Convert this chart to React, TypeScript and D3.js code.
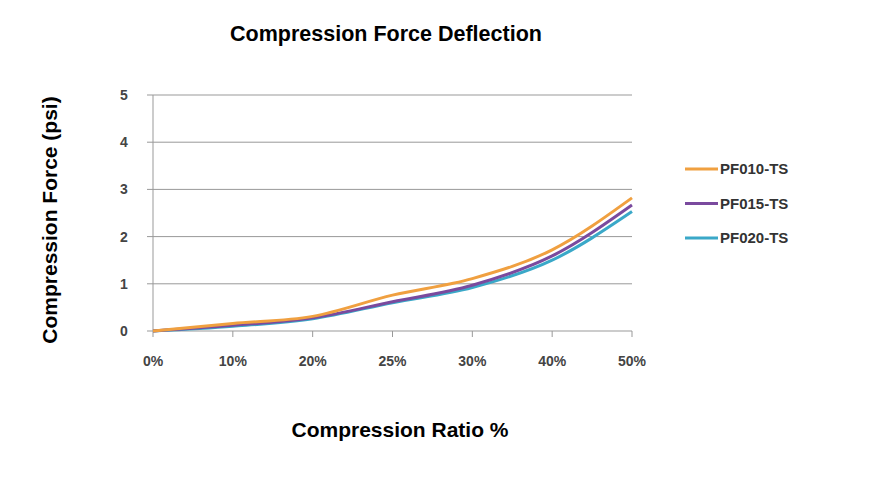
import React from "react";
import * as d3 from "d3";

const categories = ["0%", "10%", "20%", "25%", "30%", "40%", "50%"];
const yTicks = [0, 1, 2, 3, 4, 5];
const seriesNames = ["PF010-TS", "PF015-TS", "PF020-TS"];
const pf010 = [0, 0.16, 0.31, 0.76, 1.11, 1.72, 2.82];
const pf015 = [0, 0.12, 0.28, 0.62, 0.97, 1.59, 2.67];
const pf020 = [0, 0.1, 0.26, 0.6, 0.92, 1.5, 2.53];
const colors = ["#F0A040", "#7A4A9E", "#3AA8C8"];

export default function App() {
  const W = 879, H = 477;
  const x = d3.scalePoint().domain(categories).range([153, 632]);
  const y = d3.scaleLinear().domain([0, 5]).range([331, 95]);
  const line = d3.line<number>()
    .x((_, i) => x(categories[i]) as number)
    .y((d) => y(d))
    .curve(d3.curveMonotoneX);
  const data = [pf010, pf015, pf020];
  const tickFont = { fontFamily: "Arial, Liberation Sans, sans-serif", fontSize: 14, fontWeight: 700, fill: "#444" };
  return (
    <svg width={W} height={H} style={{ position: "absolute", left: 0, top: 0 }}>
      <rect width={W} height={H} fill="#fff" />
      <text x={386} y={41} textAnchor="middle" fontFamily="Arial, Liberation Sans, sans-serif" fontSize={21.5} fontWeight={700}>Compression Force Deflection</text>
      {yTicks.map((t) => (
        <g key={t}>
          <line x1={153} x2={632} y1={y(t)} y2={y(t)} stroke="#999" strokeWidth={1} />
          <line x1={147} x2={153} y1={y(t)} y2={y(t)} stroke="#999" />
          <text x={124} y={y(t) + 5} textAnchor="middle" {...tickFont}>{t}</text>
        </g>
      ))}
      <line x1={153} x2={153} y1={95} y2={331} stroke="#999" />
      {categories.map((c) => (
        <g key={c}>
          <line x1={x(c)} x2={x(c)} y1={331} y2={337} stroke="#999" />
          <text x={x(c)} y={366} textAnchor="middle" {...tickFont}>{c}</text>
        </g>
      ))}
      {data.slice().reverse().map((d, ri) => {
        const i = data.length - 1 - ri;
        return <path key={i} d={line(d) || ""} fill="none" stroke={colors[i]} strokeWidth={3} />;
      })}
      {seriesNames.map((n, i) => (
        <g key={n}>
          <line x1={685} x2={718} y1={169 + i * 34.5} y2={169 + i * 34.5} stroke={colors[i]} strokeWidth={3} />
          <text x={720} y={174 + i * 34.5} fontFamily="Arial, Liberation Sans, sans-serif" fontSize={15} fontWeight={700} fill="#333">{n}</text>
        </g>
      ))}
      <text transform="translate(57,220) rotate(-90)" textAnchor="middle" fontFamily="Arial, Liberation Sans, sans-serif" fontSize={21} fontWeight={700}>Compression Force  (psi)</text>
      <text x={400} y={437} textAnchor="middle" fontFamily="Arial, Liberation Sans, sans-serif" fontSize={21} fontWeight={700}>Compression Ratio %</text>
    </svg>
  );
}
